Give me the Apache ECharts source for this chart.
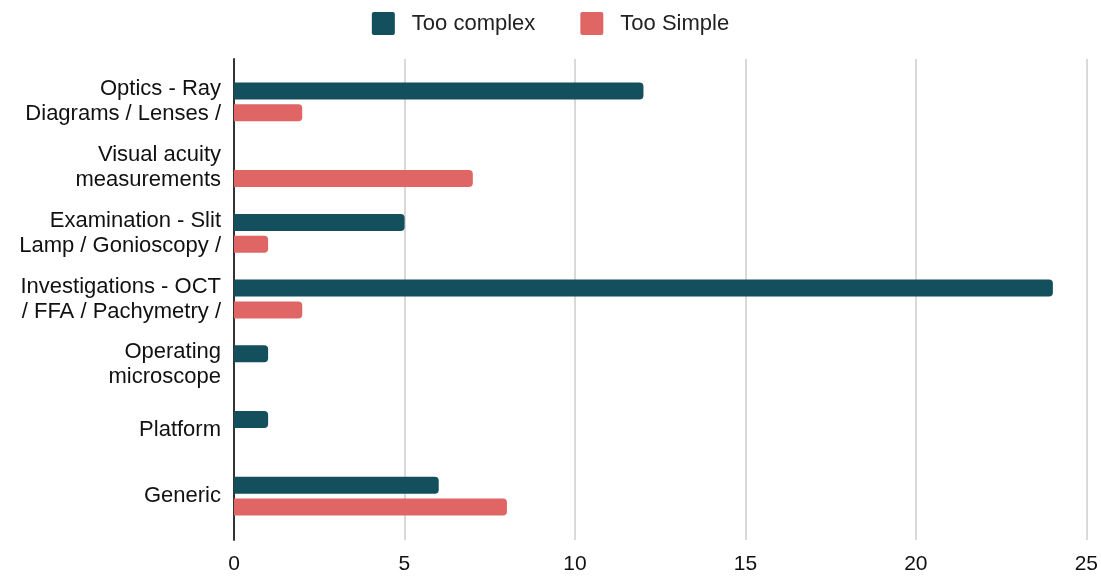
<!DOCTYPE html>
<html>
<head>
<meta charset="utf-8">
<script src="https://cdn.jsdelivr.net/npm/echarts@6/dist/echarts.min.js"></script>
<style>
  html, body { margin: 0; padding: 0; background: #fff; }
  #main { width: 1101px; height: 577px; }
</style>
</head>
<body>
<div id="main"></div>
<script>
var categories = [
    'Optics - Ray\nDiagrams / Lenses /',
    'Visual acuity\nmeasurements',
    'Examination - Slit\nLamp / Gonioscopy /',
    'Investigations - OCT\n/ FFA / Pachymetry /',
    'Operating\nmicroscope',
    'Platform',
    'Generic'
];
var tooComplex = [12, 0, 5, 24, 1, 1, 6];
var tooSimple = [2, 7, 1, 2, 0, 0, 8];
var xTicks = [0, 25, 5]; // min, max, interval

var dom = document.getElementById('main');
var myChart = echarts.init(dom);
var font = '"Liberation Sans", Arial, sans-serif';

var option = {
    animation: false,
    textStyle: { fontFamily: font },
    color: ['#134f5c', '#e06666'],
    legend: {
        top: 7,
        left: 'center',
        itemWidth: 23,
        itemHeight: 23,
        itemGap: 45,
        icon: 'path://M2,0 L21,0 Q23,0 23,2 L23,21 Q23,23 21,23 L2,23 Q0,23 0,21 L0,2 Q0,0 2,0 Z',
        textStyle: { fontSize: 22, color: '#222', fontFamily: font, padding: [0, 0, 0, 12] },
        data: ['Too complex', 'Too Simple']
    },
    grid: [
        // background grid: gridlines and axis line
        { left: 234, right: 14, top: 59, bottom: 37 },
        // bars
        { left: 234, right: 14, top: 69, bottom: 48 }
    ],
    xAxis: [
        {
            gridIndex: 0, type: 'value',
            min: xTicks[0], max: xTicks[1], interval: xTicks[2],
            axisLine: { show: false }, axisTick: { show: false },
            splitLine: { lineStyle: { color: '#cccccc', width: 1.5 } },
            axisLabel: { fontSize: 21, color: '#111', margin: 14, fontFamily: font }
        },
        {
            gridIndex: 1, type: 'value',
            min: xTicks[0], max: xTicks[1], interval: xTicks[2],
            show: false
        }
    ],
    yAxis: [
        {
            gridIndex: 0, type: 'value', min: 0, max: 1,
            axisLine: { show: true, lineStyle: { color: '#333', width: 2 } },
            axisTick: { show: false }, axisLabel: { show: false }, splitLine: { show: false }
        },
        {
            gridIndex: 1, type: 'category', inverse: true,
            data: categories,
            axisLine: { show: false }, axisTick: { show: false },
            axisLabel: {
                fontSize: 22, color: '#111', margin: 13, lineHeight: 25,
                align: 'right', fontFamily: font
            }
        }
    ],
    series: [
        {
            name: 'Too complex', type: 'bar',
            xAxisIndex: 1, yAxisIndex: 1,
            barWidth: 17, barGap: '28%',
            itemStyle: { borderRadius: [0, 4, 4, 0] },
            data: tooComplex
        },
        {
            name: 'Too Simple', type: 'bar',
            xAxisIndex: 1, yAxisIndex: 1,
            barWidth: 17, barGap: '28%',
            itemStyle: { borderRadius: [0, 4, 4, 0] },
            data: tooSimple
        }
    ]
};

myChart.setOption(option, true);
</script>
</body>
</html>
